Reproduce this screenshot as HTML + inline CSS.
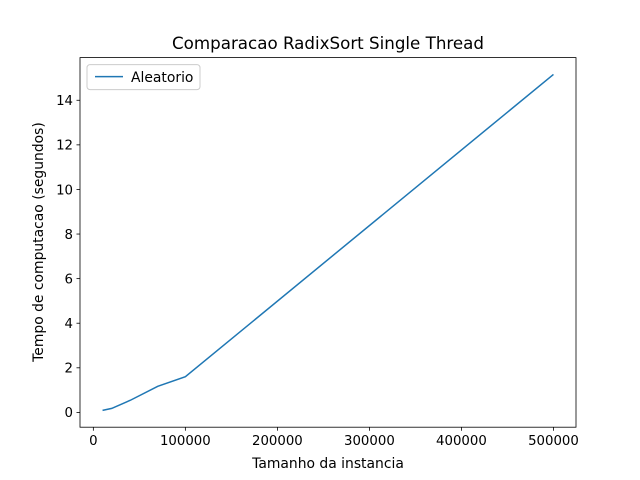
<!DOCTYPE html>
<html><head><meta charset="utf-8"><style>
body{margin:0;background:#fff}
svg{display:block;font-family:"DejaVu Sans","Liberation Sans",sans-serif}
</style></head><body>
<svg id="chart" width="640" height="480">
<rect width="640" height="480" fill="#fff"/>
<text x="328" y="49" font-size="16.7" text-anchor="middle">Comparacao RadixSort Single Thread</text>
<g id="ticks"></g>
<path id="line" fill="none" stroke="#1f77b4" stroke-width="1.5"/>
<rect x="80" y="57.6" width="496" height="369.6" fill="none" stroke="#000" stroke-width="0.8"/>
<text x="328" y="468" font-size="13.9" text-anchor="middle">Tamanho da instancia</text>
<text transform="translate(43,242) rotate(-90)" font-size="13.9" text-anchor="middle">Tempo de computacao (segundos)</text>
<g>
<rect x="87" y="64.6" width="113" height="25" rx="3" fill="#fff" stroke="#ccc" stroke-width="1"/>
<line x1="95" y1="76.6" x2="123" y2="76.6" stroke="#1f77b4" stroke-width="1.5"/>
<text x="131" y="81.8" font-size="13.9">Aleatorio</text>
</g>
</svg>
<script>
const sizes=[10000,20000,40000,70000,100000,500000];
const times=[0.09,0.18,0.54,1.17,1.6,15.16];
const xTicks=[0,100000,200000,300000,400000,500000];
const yTicks=[0,2,4,6,8,10,12,14];
const x0=80,x1=576,yT=57.6,yB=427.2;
const xmin=-14500,xmax=524500,ymin=-0.664,ymax=15.914;
const X=v=>x0+(v-xmin)/(xmax-xmin)*(x1-x0);
const Y=v=>yB-(v-ymin)/(ymax-ymin)*(yB-yT);
const ns="http://www.w3.org/2000/svg";
const g=document.getElementById('ticks');
function mk(t,a){const e=document.createElementNS(ns,t);for(const k in a)e.setAttribute(k,a[k]);g.appendChild(e);return e;}
xTicks.forEach(v=>{
 const l=mk('line',{x1:X(v),x2:X(v),y1:yB,y2:yB+3.5,stroke:'#000','stroke-width':0.8});
 
 
 const t=mk('text',{x:X(v),y:yB+18,'font-size':13.3,'text-anchor':'middle'});
 t.textContent=v;
 
 
});
yTicks.forEach(v=>{
 const l=mk('line',{x1:x0-3.5,x2:x0,y1:Y(v),y2:Y(v),stroke:'#000','stroke-width':0.8});
 
 
 const t=mk('text',{x:x0-7,y:Y(v)+4.8,'font-size':13.3,'text-anchor':'end'});
 t.textContent=v;
 
 
});
document.getElementById('line').setAttribute('d',sizes.map((s,i)=>(i?'L':'M')+X(s).toFixed(2)+','+Y(times[i]).toFixed(2)).join(''));
</script>
</body></html>
